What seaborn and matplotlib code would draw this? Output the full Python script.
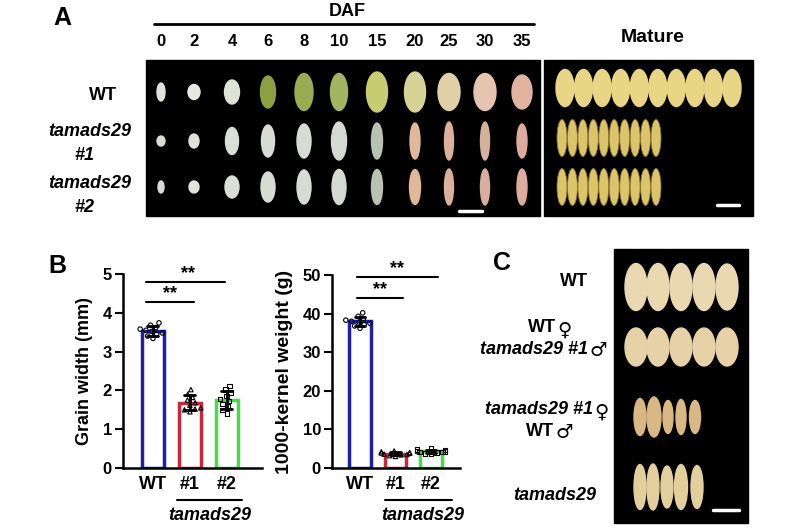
import numpy as np
import pandas as pd
import seaborn as sns
import matplotlib.pyplot as plt
from matplotlib.patches import Ellipse, Rectangle

sns.set_style('ticks')
plt.rcParams['font.family'] = ['Liberation Sans', 'DejaVu Sans']
plt.rcParams['font.weight'] = 'bold'
plt.rcParams['axes.labelweight'] = 'bold'
plt.rcParams['text.color'] = 'k'
plt.rcParams['axes.labelcolor'] = 'k'
plt.rcParams['xtick.color'] = 'k'
plt.rcParams['ytick.color'] = 'k'
plt.rcParams['axes.edgecolor'] = 'k'

# ---- data: panel B ----
lines = ['WT', '#1', '#2']
grain_width_wt = [3.34, 3.40, 3.45, 3.48, 3.52, 3.55, 3.58, 3.62, 3.68, 3.74]
grain_width_m1 = [1.45, 1.50, 1.52, 1.55, 1.62, 1.68, 1.75, 1.82, 1.90, 2.02]
grain_width_m2 = [1.40, 1.50, 1.58, 1.65, 1.72, 1.78, 1.85, 1.95, 2.02, 2.12]
tkw_wt = [36.2, 36.8, 37.2, 37.5, 37.8, 38.0, 38.3, 38.7, 39.3, 40.2]
tkw_m1 = [3.0, 3.2, 3.4, 3.5, 3.6, 3.8, 3.9, 4.0, 4.2, 4.4]
tkw_m2 = [3.6, 3.8, 4.0, 4.1, 4.2, 4.3, 4.4, 4.6, 4.8, 5.2]

# ---- data: panel A (grain sizes in px) ----
daf = ['0', '2', '4', '6', '8', '10', '15', '20', '25', '30', '35']
wt_w = [8, 12, 15, 15, 18, 17, 21, 21, 22, 22, 20]
wt_h = [18, 15, 24, 32, 37, 37, 40, 40, 37, 37, 34]
m1_w = [8, 10, 13, 13, 14, 15, 11, 10, 9, 9, 10]
m1_h = [10, 14, 27, 32, 34, 38, 36, 36, 38, 38, 34]
m2_w = [6, 10, 14, 14, 14, 14, 11, 11, 9, 9, 10]
m2_h = [12, 12, 22, 30, 34, 35, 35, 35, 36, 36, 36]
wt_col = ['#e2e2da', '#e9e9e2', '#dfe3d6', '#8fa040', '#98ad4f', '#a3b55e',
          '#c8cc70', '#d6d394', '#e0d0a8', '#e5c4b0', '#e0b4a0']
mu_col = ['#dcdcd6', '#e2e2dc', '#dcdfd8', '#d8ddd4', '#d6dbd4', '#d4d9d2',
          '#b8c4b0', '#e3b89a', '#dcb09a', '#d8ae9c', '#dcac9c']

# ---- data: panel C ----
c_labels = [[('WT', '')], [('WT', '\u2640'), ('tamads29 #1', '\u2642')],
            [('tamads29 #1', '\u2640'), ('WT', '\u2642')], [('tamads29', '')]]
c_w = [[22, 22, 22, 22, 22], [22, 22, 22, 22, 22], [12, 14, 10, 10, 11], [12, 12, 12, 13, 12]]
c_h = [[47, 47, 47, 47, 46], [38, 38, 38, 38, 38], [37, 40, 33, 35, 33], [45, 46, 42, 45, 43]]
c_col = ['#ead9b0', '#e6d2a6', '#d9b884', '#e2cf9c']

edge_pal = ['#1f1fa8', '#c8283c', '#46dc46']

fig = plt.figure(figsize=(8, 5.3), dpi=100)

# overlay in pixel coordinates for the photo panels and labels
ov = fig.add_axes([0, 0, 1, 1])
ov.set_xlim(0, 800)
ov.set_ylim(530, 0)
ov.axis('off')

ov.text(62, 18, 'A', fontsize=18, ha='center', va='center')
ov.text(57, 266, 'B', fontsize=18, ha='center', va='center')
ov.text(502, 263, 'C', fontsize=18, ha='center', va='center')

# panel A
ov.text(347, 11, 'DAF', fontsize=13, ha='center', va='center')
ov.plot([154, 534], [24, 24], color='k', lw=2)
col_x = [161, 194, 232, 268, 304, 339, 377, 415, 449, 485, 522]
for x, t in zip(col_x, daf):
    ov.text(x, 42, t, fontsize=12, ha='center', va='center')
ov.text(653, 37, 'Mature', fontsize=14, ha='center', va='center')
ov.add_patch(Rectangle((146, 60), 394, 156, color='k'))
ov.add_patch(Rectangle((544, 60), 209, 156, color='k'))

ov.text(103, 96, 'WT', fontsize=13, ha='center', va='center')
for y0, tag in [(132, '#1'), (183, '#2')]:
    ov.text(90, y0, 'tamads29', fontsize=13, style='italic', ha='center', va='center')
    ov.text(84, y0 + 24, tag, fontsize=13, style='italic', ha='center', va='center')

row_y = [92, 141, 187]
for ry, ws, hs, cols in [(row_y[0], wt_w, wt_h, wt_col),
                         (row_y[1], m1_w, m1_h, mu_col),
                         (row_y[2], m2_w, m2_h, mu_col)]:
    for x, w, h, c in zip(col_x, ws, hs, cols):
        ov.add_patch(Ellipse((x, ry), w, h, color=c))

for x in np.linspace(565, 732, 10):
    ov.add_patch(Ellipse((x, 88), 18, 37, color='#e8d684'))
for ry in [138, 187]:
    for x in np.linspace(562, 656, 10):
        ov.add_patch(Ellipse((x, ry), 10, 37, fc='#dcc46a', ec='#8a7430', lw=0.6))
ov.plot([459, 482], [211, 211], color='w', lw=2.5)
ov.plot([717, 739], [205, 205], color='w', lw=2.5)

# panel C
ov.add_patch(Rectangle((614, 249), 134, 274, color='k'))
c_row_y = [287, 347, 417, 487]
c_row_x = [[636, 658, 681, 704, 727], [636, 658, 681, 704, 727],
           [640, 654, 668, 681, 695], [640, 653, 667, 681, 697]]
for ry, xs, ws, hs, c in zip(c_row_y, c_row_x, c_w, c_h, c_col):
    for x, w, h in zip(xs, ws, hs):
        ov.add_patch(Ellipse((x, ry), w, h, color=c))
ov.plot([713, 739], [510, 510], color='w', lw=2.5)

label_pos = [[(588, 282)], [(556, 328), (588, 349)], [(593, 410), (554, 431)], [(596, 496)]]
for labs, pos in zip(c_labels, label_pos):
    for (lab, sym), (x, y) in zip(labs, pos):
        st = 'italic' if lab.startswith('tamads') else 'normal'
        t = ov.text(x, y, lab, fontsize=13, style=st, ha='right', va='center')
        if sym:
            ov.annotate(sym, xy=(1, 0.4), xycoords=t, xytext=(1, 0), textcoords='offset points',
                        fontsize=14, fontweight='normal', family='DejaVu Sans',
                        ha='left', va='center')

# panel B
def bar_panel(rect, vals, ylim, yticks, ylabel, ylabel_size, xlim, sig, band):
    ax = fig.add_axes(rect)
    df = pd.DataFrame({'line': np.repeat(lines, 10), 'val': np.concatenate(vals)})
    sns.barplot(data=df, x='line', y='val', hue='line', order=lines, hue_order=lines,
                palette=edge_pal, legend=False, fill=False, linewidth=2.5, width=0.6,
                errorbar='sd', capsize=0.3, err_kws={'color': 'k', 'linewidth': 2}, ax=ax)
    for name, m in zip(lines, ['o', '^', 's']):
        sns.swarmplot(data=df[df['line'] == name], x='line', y='val', order=lines,
                      marker=m, size=3.2, color='k', ax=ax)
    for coll in ax.collections:
        coll.set_facecolor('none')
        coll.set_edgecolor('k')
        coll.set_linewidth(0.8)
    ax.set_ylim(*ylim)
    ax.set_yticks(yticks)
    ax.set_xlim(*xlim)
    ax.set_xlabel('')
    ax.set_ylabel(ylabel, fontsize=ylabel_size, labelpad=7)
    ax.tick_params(axis='y', direction='out', length=6, width=1.5, labelsize=12, pad=2)
    ax.tick_params(axis='x', length=0, labelsize=13, pad=6)
    for lab in ax.get_xticklabels() + ax.get_yticklabels():
        lab.set_fontweight('bold')
    sns.despine(ax=ax)
    for s in ['left', 'bottom']:
        ax.spines[s].set_linewidth(1.8)
    for x0, x1, y, tx in sig:
        ax.plot([x0, x1], [y, y], color='k', lw=1.5, clip_on=False)
        ax.text(tx, y, '**', fontsize=13, ha='center', va='bottom', clip_on=False)
    tr = ax.get_xaxis_transform()
    ax.plot(band[:2], [-0.165, -0.165], color='k', lw=1.5, transform=tr, clip_on=False)
    ax.text(band[2], -0.245, 'tamads29', fontsize=13, style='italic',
            ha='center', va='center', transform=tr)
    return ax

bar_panel([123 / 800, 62 / 530, 139 / 800, 194 / 530],
          [grain_width_wt, grain_width_m1, grain_width_m2],
          (0, 5), range(0, 6), 'Grain width (mm)', 13, (-0.81, 2.95),
          [(-0.19, 1.95, 4.79, 0.95), (-0.19, 1.1, 4.28, 0.46)], (0.65, 2.4, 1.54))

bar_panel([332 / 800, 62 / 530, 128 / 800, 193 / 530],
          [tkw_wt, tkw_m1, tkw_m2],
          (0, 50), range(0, 51, 10), '1000-kernel weight (g)', 14, (-0.79, 2.82),
          [(-0.08, 2.2, 49.5, 1.04), (-0.08, 1.21, 44.0, 0.56)], (0.7, 2.6, 1.77))

fig.savefig('out.png', dpi=100)
